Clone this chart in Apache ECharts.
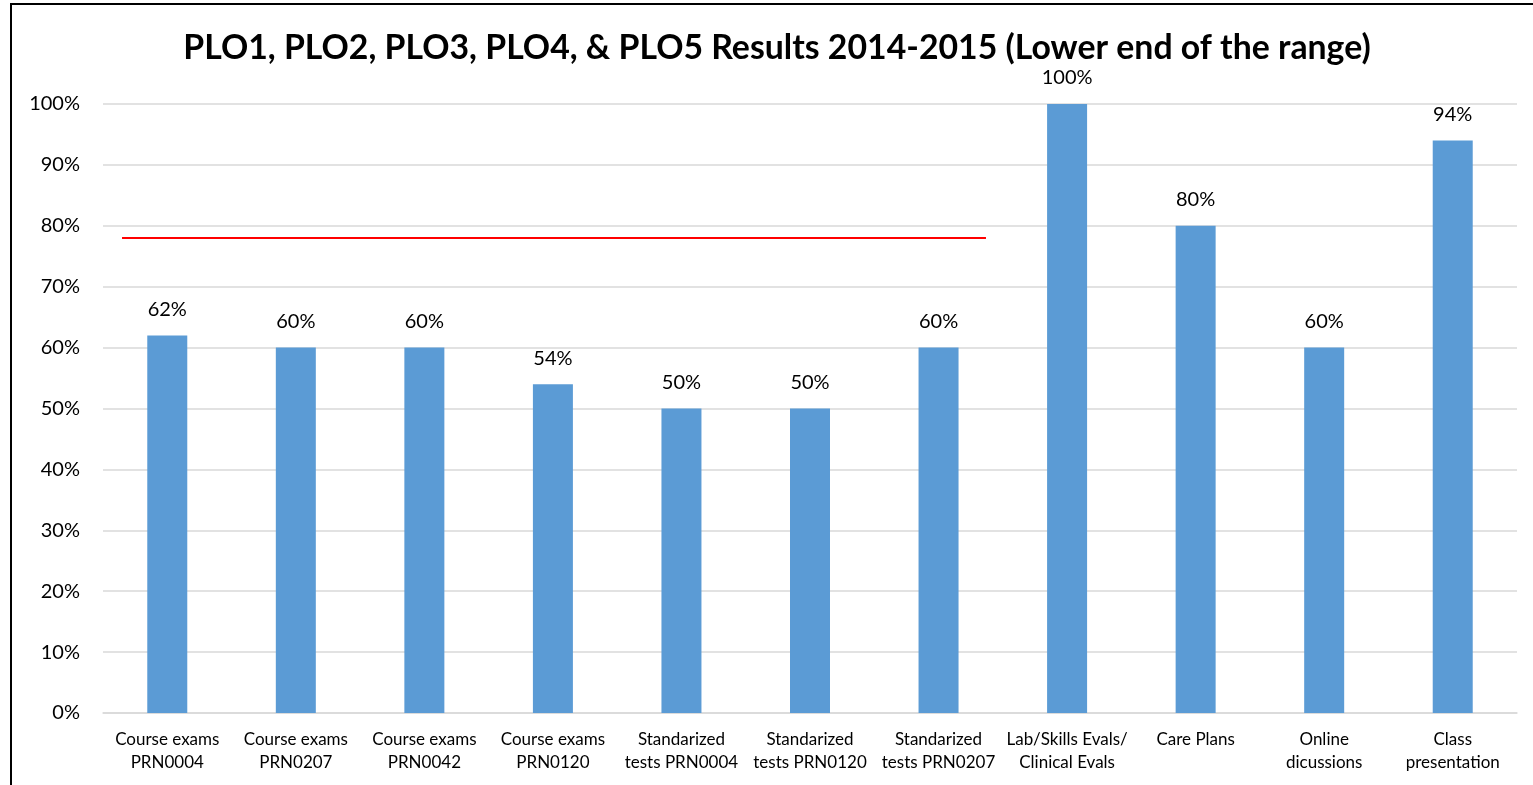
<!DOCTYPE html>
<html>
<head>
<meta charset="utf-8">
<title>PLO Results</title>
<script src="https://cdn.jsdelivr.net/npm/echarts@6/dist/echarts.min.js"></script>
<style>
  html, body { margin: 0; padding: 0; background: #fff; overflow: hidden; }
  #frame { position: absolute; left: 10px; top: 3px; width: 1540px; height: 800px;
           border-left: 2px solid #000; border-top: 2px solid #000; }
  #chart { position: absolute; left: 0; top: 0; width: 1533px; height: 785px; }
</style>
</head>
<body>
<div id="frame"></div>
<div id="chart"></div>
<script>
// categories and values
var categories = [
  'Course exams\nPRN0004', 'Course exams\nPRN0207', 'Course exams\nPRN0042',
  'Course exams\nPRN0120', 'Standarized\ntests PRN0004', 'Standarized\ntests PRN0120',
  'Standarized\ntests PRN0207', 'Lab/Skills Evals/\nClinical Evals', 'Care Plans',
  'Online\ndicussions', 'Class\npresentation'
];
var results = [62, 60, 60, 54, 50, 50, 60, 100, 80, 60, 94];
// red target line: [position on a 0..11 category scale, value]
var targetLine = [[0.148, 78], [6.869, 78]];
var yTicks = [0, 10, 20, 30, 40, 50, 60, 70, 80, 90, 100];

var font = 'Lato, "Open Sans", sans-serif';
var chart = echarts.init(document.getElementById('chart'));
chart.setOption({
  animation: false,
  title: {
    text: 'PLO1, PLO2, PLO3, PLO4, & PLO5 Results 2014-2015 (Lower end of the range)',
    left: 772, top: 26, textAlign: 'center',
    textStyle: { fontFamily: font, fontWeight: 'bold', fontSize: 33.8, color: '#000' }
  },
  grid: { left: 103, right: 16, top: 104, bottom: 72 },
  xAxis: [{
    type: 'category',
    data: categories,
    axisLine: { lineStyle: { color: '#d9d9d9', width: 1.5 } },
    axisTick: { show: false },
    axisLabel: { interval: 0, fontFamily: font, fontSize: 17, color: '#000', lineHeight: 23, margin: 15 }
  }, {
    type: 'value', min: 0, max: 11, show: false
  }],
  yAxis: {
    type: 'value', min: yTicks[0], max: yTicks[yTicks.length - 1], interval: 10,
    axisLine: { show: false }, axisTick: { show: false },
    splitLine: { lineStyle: { color: '#d9d9d9', width: 1.5 } },
    axisLabel: { formatter: '{value}%', fontFamily: font, fontSize: 20, color: '#000', margin: 23 }
  },
  series: [{
    type: 'bar',
    data: results,
    barWidth: 40,
    itemStyle: { color: '#5b9bd5' },
    label: { show: true, position: 'top', distance: 16, formatter: '{c}%',
             fontFamily: font, fontSize: 20, color: '#000' }
  }, {
    type: 'line',
    xAxisIndex: 1,
    data: targetLine,
    symbol: 'none',
    lineStyle: { color: '#ff0000', width: 2 },
    silent: true
  }]
});
</script>
</body>
</html>
